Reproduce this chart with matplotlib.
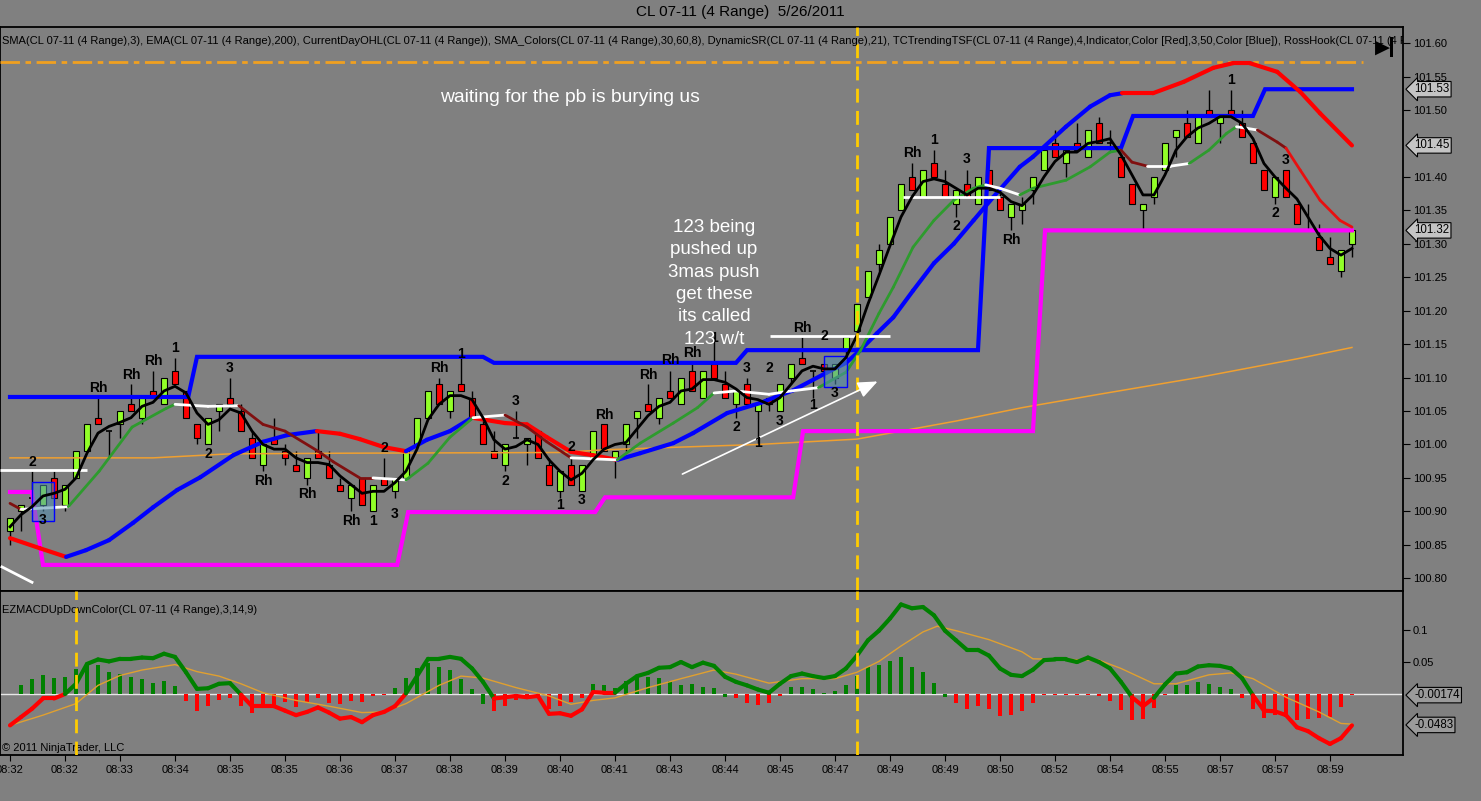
import numpy as np
import matplotlib
matplotlib.use("Agg")
import matplotlib.pyplot as plt
from matplotlib.collections import LineCollection
from matplotlib.patches import Rectangle

plt.rcParams['font.family'] = ['Liberation Sans', 'DejaVu Sans']

BG = '#808080'

# ---- time axis (one label every 5 range bars) ----
time_labels = ["08:32", "08:32", "08:33", "08:34", "08:35", "08:35", "08:36", "08:37",
               "08:38", "08:39", "08:40", "08:41", "08:43", "08:44", "08:45", "08:47",
               "08:49", "08:49", "08:50", "08:52", "08:54", "08:55", "08:57", "08:57", "08:59"]

# ---- 4 range bars, CL 07-11 ----
opens = [100.87, 100.90, 100.92, 100.91, 100.95, 100.91, 100.95, 100.99, 101.04, 101.02,
         101.03, 101.06, 101.04, 101.08, 101.06, 101.11, 101.08, 101.03, 101.00, 101.05,
         101.07, 101.05, 101.01, 100.97, 101.01, 100.99, 100.97, 100.95, 100.99, 100.97,
         100.94, 100.92, 100.95, 100.90, 100.95, 100.93, 100.95, 101.00, 101.04, 101.09,
         101.05, 101.09, 101.07, 101.03, 100.99, 100.97, 101.01, 101.00, 101.02, 100.97,
         100.93, 100.97, 100.93, 100.98, 101.03, 100.98, 101.00, 101.04, 101.06, 101.04,
         101.08, 101.06, 101.11, 101.07, 101.12, 101.09, 101.06, 101.09, 101.05, 101.07,
         101.05, 101.10, 101.13, 101.11, 101.12, 101.10, 101.14, 101.17, 101.22, 101.27,
         101.30, 101.35, 101.40, 101.37, 101.42, 101.39, 101.36, 101.39, 101.36, 101.41,
         101.37, 101.34, 101.35, 101.38, 101.41, 101.45, 101.42, 101.45, 101.43, 101.48,
         101.45, 101.43, 101.39, 101.35, 101.37, 101.41, 101.46, 101.48, 101.45, 101.50,
         101.48, 101.50, 101.48, 101.45, 101.41, 101.37, 101.41, 101.36, 101.32, 101.31,
         101.28, 101.26, 101.30]
highs = [100.89, 100.91, 100.96, 100.94, 100.96, 100.94, 100.99, 101.03, 101.07, 101.02,
         101.05, 101.09, 101.07, 101.11, 101.10, 101.13, 101.08, 101.03, 101.04, 101.06,
         101.10, 101.06, 101.02, 101.00, 101.04, 101.00, 100.99, 100.98, 101.02, 100.99,
         100.95, 100.94, 100.95, 100.94, 100.98, 100.95, 100.99, 101.04, 101.08, 101.10,
         101.08, 101.13, 101.08, 101.04, 101.02, 101.00, 101.05, 101.01, 101.02, 100.98,
         100.96, 100.98, 100.97, 101.02, 101.03, 100.99, 101.03, 101.05, 101.09, 101.07,
         101.11, 101.10, 101.12, 101.11, 101.16, 101.11, 101.08, 101.10, 101.06, 101.07,
         101.09, 101.12, 101.16, 101.11, 101.12, 101.12, 101.16, 101.21, 101.26, 101.30,
         101.34, 101.39, 101.42, 101.41, 101.44, 101.41, 101.38, 101.41, 101.40, 101.41,
         101.38, 101.36, 101.37, 101.40, 101.44, 101.47, 101.44, 101.48, 101.47, 101.49,
         101.47, 101.43, 101.39, 101.36, 101.40, 101.45, 101.47, 101.50, 101.49, 101.53,
         101.49, 101.53, 101.50, 101.45, 101.41, 101.40, 101.41, 101.36, 101.36, 101.33,
         101.31, 101.29, 101.32]
lows = [100.85, 100.87, 100.90, 100.90, 100.92, 100.90, 100.95, 100.99, 101.03, 100.98,
        101.01, 101.05, 101.03, 101.07, 101.06, 101.09, 101.04, 101.00, 101.00, 101.02,
        101.06, 101.02, 100.98, 100.96, 101.00, 100.97, 100.96, 100.94, 100.98, 100.95,
        100.93, 100.90, 100.91, 100.90, 100.94, 100.92, 100.95, 101.00, 101.04, 101.06,
        101.04, 101.08, 101.04, 101.00, 100.98, 100.96, 101.01, 100.97, 100.98, 100.94,
        100.92, 100.94, 100.93, 100.98, 100.99, 100.95, 100.99, 101.01, 101.05, 101.03,
        101.07, 101.06, 101.08, 101.07, 101.10, 101.07, 101.04, 101.06, 101.00, 101.05,
        101.05, 101.09, 101.12, 101.07, 101.10, 101.09, 101.13, 101.17, 101.22, 101.26,
        101.30, 101.35, 101.38, 101.37, 101.40, 101.37, 101.34, 101.37, 101.36, 101.38,
        101.35, 101.32, 101.33, 101.36, 101.41, 101.43, 101.40, 101.44, 101.43, 101.45,
        101.44, 101.40, 101.36, 101.32, 101.36, 101.41, 101.43, 101.46, 101.45, 101.49,
        101.45, 101.49, 101.46, 101.42, 101.38, 101.36, 101.37, 101.33, 101.32, 101.29,
        101.27, 101.25, 101.28]
closes = [100.89, 100.91, 100.92, 100.94, 100.92, 100.94, 100.99, 101.03, 101.03, 101.02,
          101.05, 101.05, 101.07, 101.07, 101.10, 101.09, 101.04, 101.01, 101.04, 101.06,
          101.06, 101.02, 100.98, 101.00, 101.00, 100.98, 100.96, 100.98, 100.98, 100.95,
          100.93, 100.94, 100.91, 100.94, 100.94, 100.95, 100.99, 101.04, 101.08, 101.06,
          101.08, 101.08, 101.04, 101.00, 100.98, 101.00, 101.01, 101.01, 100.98, 100.94,
          100.96, 100.94, 100.97, 101.02, 100.99, 100.99, 101.03, 101.05, 101.05, 101.07,
          101.07, 101.10, 101.08, 101.11, 101.10, 101.07, 101.08, 101.06, 101.06, 101.06,
          101.09, 101.12, 101.12, 101.11, 101.11, 101.12, 101.16, 101.21, 101.26, 101.29,
          101.34, 101.39, 101.38, 101.41, 101.40, 101.37, 101.38, 101.37, 101.40, 101.38,
          101.35, 101.36, 101.36, 101.40, 101.44, 101.43, 101.44, 101.44, 101.47, 101.45,
          101.45, 101.40, 101.36, 101.36, 101.40, 101.45, 101.47, 101.46, 101.49, 101.49,
          101.49, 101.49, 101.46, 101.42, 101.38, 101.40, 101.37, 101.33, 101.32, 101.29,
          101.27, 101.29, 101.32]

# SMA(3) - black line
sma3 = [100.877, 100.895, 100.907, 100.923, 100.927, 100.933, 100.950, 100.987, 101.017, 101.027,
        101.033, 101.040, 101.057, 101.063, 101.080, 101.087, 101.077, 101.047, 101.030, 101.037,
        101.053, 101.047, 101.020, 101.000, 100.993, 100.993, 100.980, 100.973, 100.973, 100.970,
        100.953, 100.940, 100.927, 100.930, 100.930, 100.943, 100.960, 100.993, 101.037, 101.060,
        101.073, 101.073, 101.067, 101.040, 101.007, 100.993, 100.997, 101.007, 101.000, 100.977,
        100.960, 100.947, 100.957, 100.977, 100.993, 101.000, 101.003, 101.023, 101.043, 101.057,
        101.063, 101.080, 101.083, 101.097, 101.097, 101.093, 101.083, 101.070, 101.067, 101.060,
        101.070, 101.090, 101.110, 101.117, 101.113, 101.113, 101.130, 101.163, 101.210, 101.253,
        101.297, 101.340, 101.370, 101.393, 101.397, 101.393, 101.383, 101.373, 101.383, 101.383,
        101.377, 101.363, 101.357, 101.373, 101.400, 101.423, 101.437, 101.437, 101.450, 101.453,
        101.457, 101.433, 101.403, 101.373, 101.373, 101.403, 101.440, 101.460, 101.473, 101.480,
        101.490, 101.490, 101.480, 101.457, 101.420, 101.400, 101.383, 101.367, 101.340, 101.313,
        101.293, 101.283, 101.293]

# SMA_Colors line (knots) and segment colour codes
smc_x = [0, 1, 5.3, 8.1, 11.1, 14.2, 15, 18, 20.8, 23, 25, 28, 29.4, 31.8, 33, 36, 38, 40, 42.1, 45,
         47, 48.8, 51, 55.2, 57.3, 60.3, 62.5, 64, 66, 69, 71, 73.5, 76, 77.3, 79, 80.3, 82.1, 84, 85.8, 87.6,
         88.7, 90, 91.8, 93, 96, 98.2, 100, 101, 102, 103.4, 105.5, 107.2, 109, 110.6, 111.5, 113.4, 115.2, 116,
         117.3, 119.1, 120.9, 122]
smc_y = [100.912, 100.903, 100.907, 100.96, 101.026, 101.054, 101.06, 101.057, 101.058, 101.03,
         101.02, 100.99, 100.974, 100.95, 100.95, 100.947, 100.972, 101.011, 101.04, 101.044,
         101.026, 101.004, 100.98, 100.977, 101.002, 101.032, 101.055, 101.077, 101.08, 101.075,
         101.08, 101.085, 101.108, 101.14, 101.196, 101.235, 101.295, 101.335, 101.365, 101.383,
         101.388, 101.383, 101.373, 101.383, 101.395, 101.415, 101.437, 101.44, 101.422, 101.416,
         101.416, 101.42, 101.44, 101.465, 101.475, 101.47, 101.452, 101.443, 101.41, 101.365,
         101.335, 101.325]
smc_codes = ("m" + "w" + "gggg" + "ww" + "mmmmmm" + "w" + "ggg" + "w" + "mmm" + "w" + "gggg"
             + "wwww" + "ggggggggg" + "ww" + "ggggg" + "mm" + "ww" + "ggg" + "w" + "mm" + "rrrr")

# TCTrendingTSF (knots), red falling / blue rising
tsf_x = [0, 2.7, 5.1, 6.9, 9, 11.2, 13, 15.2, 17.3, 20.3, 23, 25.2, 27.9, 30, 31.8, 34, 36, 37.9, 40, 42,
         45, 47, 48.8, 51, 53, 55.2, 57.3, 60.3, 62.1, 65.2, 68.2, 71.2, 74.2, 76, 77.3, 78.8, 80.3, 82.1, 84, 85.8,
         87.6, 89.4, 91.8, 93, 96, 98.2, 100, 101.1, 103.9, 106.7, 109.4, 111.2, 112.7, 115.2, 117.3, 119.1, 122]
tsf_y = [100.86, 100.845, 100.832, 100.842, 100.857, 100.883, 100.906, 100.932, 100.951, 100.984,
         101.004, 101.014, 101.02, 101.016, 101.008, 100.996, 100.99, 101.007, 101.02, 101.04,
         101.032, 101.03, 101.011, 100.989, 100.984, 100.977, 100.987, 101.002, 101.017, 101.047,
         101.062, 101.081, 101.107, 101.122, 101.141, 101.166, 101.19, 101.23, 101.271, 101.30,
         101.335, 101.37, 101.415, 101.43, 101.475, 101.505, 101.522, 101.525, 101.525, 101.542,
         101.563, 101.57, 101.57, 101.557, 101.527, 101.495, 101.447]
tsf_codes = "rr" + "b" * 10 + "rrrr" + "bbb" + "r" * 6 + "b" * 22 + "r" * 9

# DynamicSR resistance (blue) and support (magenta) steps
res_x = [0, 16.2, 17, 43, 44, 66, 67, 88, 89, 101, 102.1, 113, 114.1, 122]
res_y = [101.071, 101.071, 101.131, 101.131, 101.122, 101.122, 101.141, 101.141,
         101.443, 101.443, 101.491, 101.491, 101.531, 101.531]
sup_x = [0, 2.0, 3.0, 35.2, 36.2, 53.2, 54.1, 71.2, 72.1, 93.0, 94.1, 122]
sup_y = [100.929, 100.929, 100.820, 100.820, 100.899, 100.899, 100.921, 100.921,
         101.020, 101.020, 101.320, 101.320]

# EMA(200)
ema_x = [0, 13, 20, 31, 50, 54, 59, 68, 77, 81, 86, 92, 99, 108, 117, 122]
ema_y = [100.980, 100.980, 100.986, 100.987, 100.988, 100.992, 100.995, 101.000, 101.008,
         101.020, 101.035, 101.055, 101.075, 101.100, 101.128, 101.145]

# Ross hook breakout lines (white)
hook_x0 = [-0.9, 69.1, 81.2]
hook_x1 = [7.0, 80.0, 90.0]
hook_y = [100.962, 101.162, 101.370]

hook_labels = [
    ("2", 2, 100.974), ("3", 3, 100.887), ("Rh", 8, 101.084), ("Rh", 11, 101.104),
    ("Rh", 13, 101.125), ("1", 15, 101.144), ("2", 18, 100.986), ("3", 20, 101.114),
    ("Rh", 23, 100.945), ("Rh", 27, 100.926), ("Rh", 31, 100.885), ("1", 33, 100.885),
    ("2", 34, 100.995), ("3", 35, 100.896), ("Rh", 39, 101.114), ("1", 41, 101.135),
    ("2", 45, 100.945), ("3", 46, 101.065), ("1", 50, 100.909), ("2", 51, 100.996),
    ("3", 52, 100.917), ("Rh", 54, 101.044), ("Rh", 58, 101.104), ("Rh", 60, 101.126),
    ("Rh", 62, 101.137), ("1", 64, 101.159), ("3", 67, 101.114), ("2", 69, 101.114),
    ("2", 66, 101.026), ("1", 68, 101.002), ("3", 70, 101.035), ("1", 73, 101.059),
    ("Rh", 72, 101.174), ("2", 74, 101.162), ("3", 75, 101.077), ("Rh", 82, 101.436),
    ("1", 84, 101.455), ("3", 87, 101.427), ("2", 86, 101.326), ("Rh", 91, 101.306),
    ("1", 111, 101.545), ("3", 116, 101.425), ("2", 115, 101.346)]

# drawn objects
boxes = [(2.0, 4.0, 100.886, 100.944), (74.0, 76.1, 101.086, 101.132)]
arrow_from = (60.9, 100.954)
arrow_to = (79.1, 101.096)
hline_level = 101.572
vline_bar = 77
vline_bar_lower = 6

# last values shown as flags on the price scale
price_flags = [(101.531, "101.53"), (101.447, "101.45"), (101.32, "101.32")]
macd_flags = [(-0.00174, "-0.00174"), (-0.0483, "-0.0483")]

# ---- EZMACD panel ----
macd = [-0.049, -0.036, -0.023, -0.007, -0.007, 0.000, 0.016, 0.047, 0.054, 0.051,
        0.055, 0.055, 0.057, 0.056, 0.063, 0.058, 0.034, 0.008, 0.009, 0.016,
        0.017, -0.001, -0.019, -0.019, -0.019, -0.026, -0.033, -0.028, -0.021, -0.029,
        -0.0385, -0.036, -0.044, -0.033, -0.028, -0.019, 0.001, 0.028, 0.055, 0.055,
        0.058, 0.055, 0.040, 0.019, -0.007, -0.005, -0.003, -0.005, -0.003, -0.031,
        -0.030, -0.034, -0.024, 0.003, 0.002, 0.002, 0.016, 0.028, 0.033, 0.041,
        0.042, 0.050, 0.042, 0.049, 0.044, 0.027, 0.019, 0.0135, 0.007, 0.002,
        0.016, 0.028, 0.032, 0.028, 0.025, 0.028, 0.040, 0.060, 0.084, 0.099,
        0.118, 0.140, 0.134, 0.136, 0.123, 0.099, 0.084, 0.069, 0.069, 0.060,
        0.040, 0.030, 0.028, 0.038, 0.053, 0.054, 0.054, 0.050, 0.057, 0.050,
        0.040, 0.019, -0.005, -0.019, -0.006, 0.015, 0.032, 0.034, 0.043, 0.045,
        0.044, 0.040, 0.025, -0.002, -0.026, -0.027, -0.033, -0.052, -0.058, -0.069,
        -0.078, -0.069, -0.049]
sig_x = [0, 3, 6, 8, 10, 12, 15, 17, 19, 21, 23, 26, 29, 32, 34, 36, 39, 41, 43, 46,
         49, 51, 53, 55, 58, 61, 64, 66, 69, 72, 75, 77, 79, 81, 83, 84.3, 86, 89, 92, 93,
         96, 99, 101, 104, 106, 109, 111, 113, 116, 119, 121, 122]
sig_y = [-0.049, -0.033, -0.015, 0.0135, 0.029, 0.0375, 0.046, 0.035, 0.028, 0.016,
         0.002, -0.010, -0.019, -0.029, -0.028, -0.015, 0.0135, 0.028, 0.025, 0.010,
         -0.003, -0.016, -0.010, -0.006, 0.010, 0.024, 0.0375, 0.031, 0.017, 0.024,
         0.024, 0.034, 0.051, 0.075, 0.097, 0.106, 0.099, 0.085, 0.066, 0.055,
         0.054, 0.053, 0.040, 0.016, 0.016, 0.030, 0.033, 0.024, -0.005, -0.028,
         -0.046, -0.047]
hist = [0, 0.0135, 0.023, 0.030, 0.025, 0.026, 0.0385, 0.049, 0.046, 0.034,
        0.032, 0.026, 0.023, 0.017, 0.020, 0.012, -0.0104, -0.027, -0.019, -0.010,
        -0.007, -0.018, -0.029, -0.021, -0.021, -0.0125, -0.021, -0.0125, -0.007, -0.0135,
        -0.015, -0.0104, -0.0125, -0.003, -0.001, 0.009, 0.025, 0.041, 0.049, 0.042,
        0.038, 0.024, 0.008, -0.015, -0.027, -0.019, -0.010, -0.006, -0.007, -0.024,
        -0.019, -0.0125, -0.006, 0.0156, 0.0135, 0.009, 0.021, 0.028, 0.026, 0.025,
        0.021, 0.0146, 0.0156, 0.0104, 0.009, -0.005, -0.007, -0.0146, -0.0167, -0.0146,
        -0.003, 0.0104, 0.0115, 0.0073, 0.002, 0.005, 0.0146, 0.028, 0.042, 0.046,
        0.052, 0.058, 0.043, 0.035, 0.018, -0.005, -0.0146, -0.024, -0.018, -0.024,
        -0.035, -0.033, -0.027, -0.0146, -0.001, -0.001, -0.001, -0.001, -0.002, -0.003,
        -0.0104, -0.025, -0.041, -0.0385, -0.022, -0.001, 0.0135, 0.0135, 0.019, 0.016,
        0.0115, 0.0073, -0.006, -0.023, -0.0375, -0.033, -0.036, -0.040, -0.0385, -0.0375,
        -0.036, -0.021, -0.001]
hist_codes = "g" * 16 + "r" * 19 + "g" * 9 + "r" * 9 + "g" * 13 + "r" * 5 + "g" * 15 + "r" * 20 + "g" * 6 + "r" * 11

header = ("SMA(CL 07-11 (4 Range),3), EMA(CL 07-11 (4 Range),200), CurrentDayOHL(CL 07-11 (4 Range)), "
          "SMA_Colors(CL 07-11 (4 Range),30,60,8), DynamicSR(CL 07-11 (4 Range),21), "
          "TCTrendingTSF(CL 07-11 (4 Range),4,Indicator,Color [Red],3,50,Color [Blue]), RossHook(CL 07-11 (4 R")


def colored_line(ax, xs, ys, codes, palette, lw, z):
    pts = np.column_stack([xs, ys])
    segs = np.stack([pts[:-1], pts[1:]], axis=1)
    lc = LineCollection(segs, colors=[palette[c] for c in codes], linewidths=lw,
                        zorder=z, capstyle='round', joinstyle='round')
    ax.add_collection(lc)


def value_flag(ax, y, text, fc):
    ax.annotate(text, xy=(1.0, y), xycoords=('axes fraction', 'data'), xytext=(8, 0),
                textcoords='offset points', ha='left', va='center', fontsize=8.3, color='black',
                bbox=dict(boxstyle='larrow,pad=0.15', fc=fc, ec='black', lw=0.8),
                annotation_clip=False, zorder=10)


W, H = 1481, 801
fig = plt.figure(figsize=(W / 100, H / 100), dpi=100, facecolor=BG)
ax = fig.add_axes([0, 1 - 591 / H, 1403 / W, 564 / H], facecolor=BG)
ax2 = fig.add_axes([0, 1 - 755 / H, 1403 / W, 164 / H], facecolor=BG)

x = np.arange(len(closes))
o = np.array(opens); c = np.array(closes)
up = c > o
dn = c < o
doji = c == o

# ---- candles ----
ax.vlines(x, lows, highs, color='black', lw=1, zorder=2)
ax.bar(x[up], (c - o)[up], bottom=o[up], width=0.62, color='#92ff28', edgecolor='black', lw=0.8, zorder=2.5)
ax.bar(x[dn], (o - c)[dn], bottom=c[dn], width=0.62, color='#ff0000', edgecolor='black', lw=0.8, zorder=2.5)
ax.hlines(c[doji], x[doji] - 0.3, x[doji] + 0.3, color='black', lw=1.2, zorder=2.5)

# ---- indicators ----
ax.plot(ema_x, ema_y, color='#f0a030', lw=1.1, zorder=3)
ax.plot(sup_x, sup_y, color='#ff00ff', lw=3, zorder=3, solid_joinstyle='miter')
ax.plot(res_x, res_y, color='#0000ff', lw=3, zorder=3, solid_joinstyle='miter')
colored_line(ax, tsf_x, tsf_y, tsf_codes, {'r': '#ff0000', 'b': '#0000ff'}, 3, 3.2)
colored_line(ax, smc_x, smc_y, smc_codes,
             {'g': '#2e9b2e', 'w': '#ffffff', 'm': '#801010', 'r': '#e81010'}, 2, 3.4)
ax.hlines(hook_y, hook_x0, hook_x1, color='white', lw=2, zorder=3.5)
ax.plot(x, sma3, color='black', lw=2, zorder=4)

ax.plot([-0.9, 123], [hline_level, hline_level], color='#f0a020', lw=2,
        dashes=(7, 2, 2, 2), zorder=3)
ax.axvline(vline_bar, color='#ffcc00', lw=2, dashes=(5, 3), zorder=4)

for bx0, bx1, by0, by1 in boxes:
    ax.add_patch(Rectangle((bx0, by0), bx1 - bx0, by1 - by0, fc='#4f8fb0', alpha=0.55,
                           ec='none', zorder=3.6))
    ax.add_patch(Rectangle((bx0, by0), bx1 - bx0, by1 - by0, fill=False, ec='#0000ff',
                           lw=1, zorder=3.7))

ax.annotate('', xy=arrow_to, xytext=arrow_from,
            arrowprops=dict(arrowstyle='-|>,head_length=1.2,head_width=0.5', color='white', lw=1.2),
            zorder=4)
ax.plot([-0.73, 2.0], [100.817, 100.794], color='white', lw=2, zorder=4)

for txt, bx, by in hook_labels:
    ax.text(bx, by, txt, ha='center', va='center', fontsize=10, fontweight='bold',
            color='black', zorder=5)

ax.text(50.9, 101.518, "waiting for the pb is burying us", color='white', fontsize=13.9,
        ha='center', va='center', zorder=5)
ax.text(64, 101.241, "123 being\npushed up\n3mas push\nget these\nits called\n123 w/t",
        color='white', fontsize=13.5, ha='center', va='center', linespacing=1.42, zorder=5)
ax.text(0.0015, 1 - 14 / 564, header, transform=ax.transAxes, fontsize=8, color='black',
        ha='left', va='center', clip_on=True, zorder=6)

ax.set_xlim(-0.91, 126.64)
ax.set_ylim(100.781, 101.624)
ax.yaxis.tick_right()
yt = [100.80, 100.85, 100.90, 100.95, 101.00, 101.05, 101.10, 101.15, 101.20,
      101.25, 101.30, 101.35, 101.40, 101.50, 101.55, 101.60]
ax.set_yticks(yt)
ax.set_yticklabels([f"{v:.2f}" for v in yt])
ax.tick_params(axis='y', direction='out', length=5, labelsize=8, pad=2, colors='black')
ax.set_xticks([])
for s in ax.spines.values():
    s.set_color('black'); s.set_linewidth(1.3)

for fy, ft in price_flags:
    value_flag(ax, fy, ft, '#c4c4c4')

# ---- MACD panel ----
hc = ['#008000' if k == 'g' else '#ff0000' for k in hist_codes]
ax2.bar(x, hist, width=0.3, color=hc, zorder=2)
ax2.axhline(0, color='#e8e8e8', lw=1, zorder=1.5)
ax2.plot(sig_x, sig_y, color='#e0a030', lw=1, zorder=3)
mcodes = ['g' if (macd[i] + macd[i + 1]) / 2 > 0.004 else 'r' for i in range(len(macd) - 1)]
colored_line(ax2, x, macd, mcodes, {'g': '#008000', 'r': '#ff0000'}, 3, 3.5)
ax2.axvline(vline_bar, color='#ffcc00', lw=2, dashes=(5, 3), zorder=4)
ax2.axvline(vline_bar_lower, color='#ffcc00', lw=2, dashes=(5, 3), zorder=4)

ax2.text(0.0015, 1 - 19 / 164, "EZMACDUpDownColor(CL 07-11 (4 Range),3,14,9)", transform=ax2.transAxes,
         fontsize=8, ha='left', va='center', color='black')
ax2.text(0.0015, 1 - 157 / 164, "\u00a9 2011 NinjaTrader, LLC", transform=ax2.transAxes,
         fontsize=8, ha='left', va='center', color='black')

ax2.set_xlim(-0.91, 126.64)
ax2.set_ylim(-0.0953, 0.161)
ax2.yaxis.tick_right()
ax2.set_yticks([0.05, 0.1])
ax2.set_yticklabels(['0.05', '0.1'])
ax2.tick_params(axis='y', direction='out', length=5, labelsize=8, pad=2)
ax2.set_xticks(x[::5])
ax2.set_xticklabels(time_labels)
ax2.tick_params(axis='x', direction='out', length=4, labelsize=8, pad=3)
for s in ax2.spines.values():
    s.set_color('black'); s.set_linewidth(1.3)

for fy, ft in macd_flags:
    value_flag(ax2, fy, ft, '#9a9a9a')

# ---- title and go-to-end button ----
fig.text(740 / W, 1 - 12 / H, "CL 07-11 (4 Range)  5/26/2011", ha='center', va='center',
         fontsize=11, color='black')
fig.text(1382 / W, 1 - 47 / H, "\u25b6", ha='center', va='center', fontsize=14,
         family='DejaVu Sans', color='black')
fig.patches.append(Rectangle((1390 / W, 1 - 57 / H), 3 / W, 20 / H, transform=fig.transFigure,
                             fc='black', ec='none'))

fig.savefig("out.png", dpi=100, facecolor=BG)
